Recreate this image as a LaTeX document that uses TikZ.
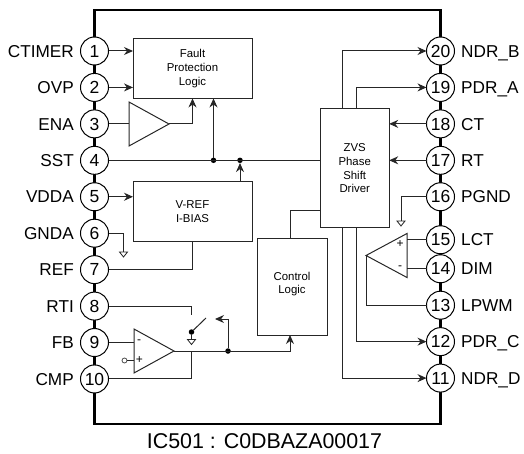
\documentclass[tikz,border=0pt]{standalone}
\usepackage{fontspec}
\setmainfont{Liberation Sans}
\usetikzlibrary{shapes.geometric,arrows.meta,positioning,calc}

\begin{document}
\begin{tikzpicture}[
    x=1pt, y=-1pt,
    node distance=8.44pt,
    chip/.style={rectangle, draw, line width=2.4pt, minimum width=346pt, minimum height=414pt, outer sep=0pt},
    pin/.style={circle, draw, fill=white, line width=1pt, minimum size=28pt, inner sep=0pt, outer sep=0pt,
                font=\fontsize{17.5}{18}\selectfont, text height=12.3pt, text depth=0pt},
    pinname/.style={inner sep=0pt, font=\fontsize{17.2}{18}\selectfont, text height=12.3pt, text depth=0pt},
    block/.style={rectangle, draw=black!85, line width=1pt, align=center, inner sep=0pt, outer sep=0pt,
                  font=\fontsize{11.4}{13.7}\selectfont},
    amp/.style={isosceles triangle, isosceles triangle stretches, draw=black!85, line width=1pt,
                minimum width=44pt, minimum height=40pt, inner sep=0pt, outer sep=0pt},
    ground/.style={isosceles triangle, isosceles triangle stretches, shape border rotate=270, draw=black!85,
                   line width=0.8pt, minimum width=8pt, minimum height=5pt, inner sep=0pt, outer sep=0pt},
    dot/.style={circle, fill=black, minimum size=5.5pt, inner sep=0pt, outer sep=0pt},
    open/.style={circle, draw=black!70, line width=0.8pt, fill=white, minimum size=5pt, inner sep=0pt, outer sep=0pt},
    sign/.style={inner sep=0pt, font=\fontsize{12}{12}\selectfont},
    wire/.style={draw=black!85, line width=1pt},
    arrow/.style={-{Stealth[length=9pt,width=8pt]}, black!85, line width=1pt}
]
\useasboundingbox (0,0) rectangle (524,454);

\node[chip] (ic) at (267.5,217) {};

\node[pin] (p1) at (94.5,51) {1};
\node[pin, below=of p1] (p2) {2};
\node[pin, below=of p2] (p3) {3};
\node[pin, below=of p3] (p4) {4};
\node[pin, below=of p4] (p5) {5};
\node[pin, below=of p5] (p6) {6};
\node[pin, below=of p6] (p7) {7};
\node[pin, below=of p7] (p8) {8};
\node[pin, below=of p8] (p9) {9};
\node[pin, below=of p9] (p10) {10};

\node[pin] (p20) at (440.5,51) {20};
\node[pin, below=of p20] (p19) {19};
\node[pin, below=of p19] (p18) {18};
\node[pin, below=of p18] (p17) {17};
\node[pin, below=of p17] (p16) {16};
\node[pin, below=15pt of p16] (p15) {15};
\node[pin, below=1pt of p15] (p14) {14};
\node[pin, below=of p14] (p13) {13};
\node[pin, below=of p13] (p12) {12};
\node[pin, below=of p12] (p11) {11};

\node[pinname, left=6.5pt of p1] (ctimer) {CTIMER};
\node[pinname, left=6.5pt of p2] (ovp) {OVP};
\node[pinname, left=6.5pt of p3] (ena) {ENA};
\node[pinname, left=6.5pt of p4] (sst) {SST};
\node[pinname, left=6.5pt of p5] (vdda) {VDDA};
\node[pinname, left=6.5pt of p6] (gnda) {GNDA};
\node[pinname, left=6.5pt of p7] (ref) {REF};
\node[pinname, left=6.5pt of p8] (rti) {RTI};
\node[pinname, left=6.5pt of p9] (fb) {FB};
\node[pinname, left=6.5pt of p10] (cmp) {CMP};

\node[pinname, right=6.5pt of p20] (ndrb) {NDR\_B};
\node[pinname, right=6.5pt of p19] (pdra) {PDR\_A};
\node[pinname, right=6.5pt of p18] (ct) {CT};
\node[pinname, right=6.5pt of p17] (rt) {RT};
\node[pinname, right=6.5pt of p16] (pgnd) {PGND};
\node[pinname, right=6.5pt of p15] (lct) {LCT};
\node[pinname, right=6.5pt of p14] (dim) {DIM};
\node[pinname, right=6.5pt of p13] (lpwm) {LPWM};
\node[pinname, right=6.5pt of p12] (pdrc) {PDR\_C};
\node[pinname, right=6.5pt of p11] (ndrd) {NDR\_D};

\node[block, minimum width=119pt, minimum height=59.5pt] (fault) at (192.5,68.7) {Fault\\Protection\\Logic};
\node[block, minimum width=119pt, minimum height=60pt, below=83.5pt of fault] (vref) {V-REF\\I-BIAS};
\node[block, minimum width=69pt, minimum height=119pt] (zvs) at (354.7,168.5) {ZVS\\Phase\\Shift\\Driver};
\node[block, minimum width=70pt, minimum height=97pt, text depth=7pt] (control) at (292,286.5) {Control\\Logic};

\node[amp, anchor=apex] (ampena) at (169,124) {};
\node[amp, anchor=apex] (ampfb) at (174,351) {};
\node[amp, shape border rotate=180, minimum height=41pt, anchor=apex] (amplct) at (366,255.5) {};

\node[sign] (minusfb) at (139,342) {-};
\node[sign] (plusfb) at (139.5,360) {+};
\node[sign] (pluslct) at (400,244) {+};
\node[sign] (minuslct) at (400,268) {-};

\node[open] (bias) at (124.5,360.5) {};
\node[ground, anchor=lower side] (gnd6) at (123.5,252) {};
\node[ground, anchor=lower side] (gnd16) at (401,221) {};
\node[ground, anchor=lower side] (gndsw) at (191.5,339.5) {};

\node[dot] (dotfault) at (213.5,160.3) {};
\node[dot] (dotvref) at (240,160.3) {};
\node[dot] (dotsw) at (191.5,332) {};
\node[dot] (dotfb) at (228,351) {};
\coordinate (swopen) at (206,318);
\coordinate (swfix) at (191.5,315);

\node[font=\fontsize{21.4}{22}\selectfont, inner sep=0pt] (title) at (264.5,441.5) {IC501 : C0DBAZA00017};

\draw[arrow] (p1) -- (p1 -| fault.west);
\draw[arrow] (p2) -- (p2 -| fault.west);
\draw[arrow] (p5) -- (p5 -| vref.west);
\draw[wire] (p3) -- (p3 -| ampena.lower side);
\draw[arrow] (ampena.apex) -| (fault.south);
\draw[wire] (p4) -- (p4 -| zvs.west);
\draw[arrow] (dotfault) -- (dotfault |- fault.south);
\draw[arrow] (dotvref |- vref.north) -- (dotvref);
\draw[wire] (p6) -| (gnd6.lower side);
\draw[wire] (p7) -| (vref.south);
\draw[wire] (p8) -| (swfix);
\draw[wire] (dotsw) -- (swopen);
\draw[wire] (dotsw) -- (gndsw.lower side);
\draw[wire] (p9) -- (p9 -| ampfb.lower side);
\draw[wire] (bias) -- (bias -| ampfb.lower side);
\draw[wire] (p10) -| (dotsw |- ampfb.apex);
\draw[arrow] (ampfb.apex) -| (control.south -| 290,0);
\draw[arrow] (dotfb) |- (215,319);

\draw[arrow] (zvs.north -| 342,0) |- (p20);
\draw[arrow] (zvs.north -| 356,0) |- (p19);
\draw[arrow] (p18) -- (p18 -| zvs.east);
\draw[arrow] (p17) -- (p17 -| zvs.east);
\draw[wire] (p16) -| (gnd16.lower side);
\draw[wire] (p15) -- (p15 -| amplct.lower side);
\draw[wire] (p14) -- (p14 -| amplct.lower side);
\draw[wire] (amplct.apex) |- (p13);
\draw[arrow] (zvs.south -| 356,0) |- (p12);
\draw[arrow] (zvs.south -| 342,0) |- (p11);
\draw[wire] (control.north -| 290,0) |- (zvs.west |- 0,211);
\end{tikzpicture}
\end{document}
